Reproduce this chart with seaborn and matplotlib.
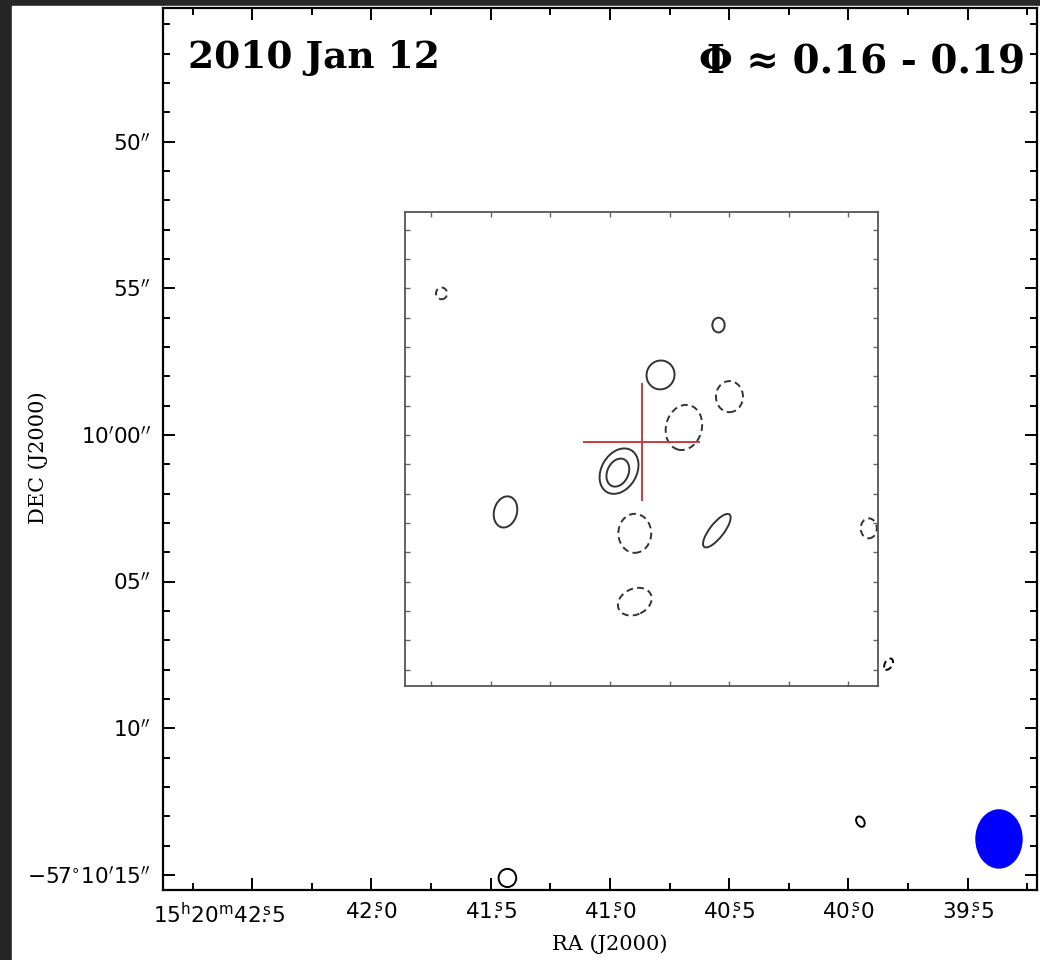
import numpy as np
import pandas as pd
import matplotlib
matplotlib.use('Agg')
import matplotlib.pyplot as plt
from matplotlib.patches import Ellipse, Rectangle
from matplotlib.transforms import ScaledTranslation
import seaborn as sns

sns.set_theme(style='ticks')
plt.rcParams['font.family'] = ['DejaVu Sans']
plt.rcParams['mathtext.fontset'] = 'dejavusans'

# RA in seconds of 15h20m, Dec as arcsec offset from -57d10'00"
ra_ticks = [42.5, 42.0, 41.5, 41.0, 40.5, 40.0, 39.5]
ra_labels = [r'15$^{\rm h}$20$^{\rm m}$42$\overset{\rm s}{.}$5', r'42$\overset{\rm s}{.}$0',
             r'41$\overset{\rm s}{.}$5', r'41$\overset{\rm s}{.}$0', r'40$\overset{\rm s}{.}$5',
             r'40$\overset{\rm s}{.}$0', r'39$\overset{\rm s}{.}$5']
dec_ticks = [10, 5, 0, -5, -10, -15]
dec_labels = [r'50$^{\prime\prime}$', r'55$^{\prime\prime}$', r'10$^{\prime}$00$^{\prime\prime}$',
              r'05$^{\prime\prime}$', r'10$^{\prime\prime}$', r'$-$57$^{\circ}$10$^{\prime}$15$^{\prime\prime}$']

# contour pieces (ellipse fits): centre RA [s], Dec ["], size ["], pa [deg]
cont_ra = [40.788, 40.499, 40.690, 40.962, 40.967, 41.438, 40.896, 40.552, 40.896,
           40.545, 41.706, 39.915, 39.832, 39.950, 41.430]
cont_dec = [2.05, 1.31, 0.26, -1.23, -1.28, -2.62, -3.35, -3.26, -5.68,
            3.75, 4.83, -3.18, -7.81, -13.18, -15.10]
cont_w = [0.95, 0.92, 1.22, 1.20, 0.72, 0.78, 1.12, 1.40, 1.20, 0.42, 0.38, 0.55, 0.25, 0.26, 0.60]
cont_h = [0.99, 1.06, 1.56, 1.65, 1.00, 1.08, 1.33, 0.48, 0.88, 0.50, 0.40, 0.68, 0.42, 0.38, 0.62]
cont_pa = [-20, 0, -15, -30, -25, -15, 0, 52, 25, 0, 0, 0, -30, 30, 0]
cont_sign = [1, -1, -1, 1, 1, 1, -1, 1, -1, 1, -1, -1, -1, 1, 1]
cont_inner = [1, 1, 1, 1, 1, 1, 1, 1, 1, 1, 1, 1, 0, 0, 0]

beam_ra, beam_dec, beam_w, beam_h = 39.369, -13.77, 1.57, 1.98
src_ra, src_dec, src_err = 40.867, -0.24, 2.0

K = 15 * np.cos(np.radians(57.1686))  # arcsec per RA second


def to_x(ra):
    return (41.0 - np.asarray(ra, dtype=float)) * K


W, H = 1040, 960
fig = plt.figure(figsize=(W / 100, H / 100), dpi=100)
fig.patch.set_facecolor('#262626')
fig.add_artist(Rectangle((12 / W, 0), 1, (H - 6) / H, transform=fig.transFigure,
                         color='white', zorder=-5))

ax = fig.add_axes([163 / W, (H - 890) / H, 874 / W, 882 / H])
ax.set_facecolor('white')
ax.set_xlim(-15.24, 14.56)
ax.set_ylim(-15.51, 14.56)

ax.set_xticks(to_x(ra_ticks))
ax.set_xticklabels(ra_labels)
ax.set_xticks(to_x(np.arange(39.25, 43.0, 0.25)), minor=True)
ax.set_yticks(dec_ticks)
ax.set_yticklabels(dec_labels)
ax.set_yticks(np.arange(-15, 15, 1), minor=True)
ax.tick_params(which='both', direction='in', top=True, right=True, color='black',
               width=1.4, labelsize=15.5, labelcolor='black')
ax.tick_params(which='major', length=8.5, pad=9)
ax.tick_params(which='minor', length=5)
for s in ax.spines.values():
    s.set_color('black')
    s.set_linewidth(1.6)

# first RA label is aligned on its seconds part
first = ax.get_xticklabels()[0]
first.set_transform(first.get_transform() + ScaledTranslation(-0.33, 0, fig.dpi_scale_trans))

ax.set_xlabel('RA (J2000)', family='DejaVu Serif', fontsize=15, color='black')
ax.set_ylabel('DEC (J2000)', family='DejaVu Serif', fontsize=15, color='black')
ax.xaxis.set_label_coords(0.511, -0.05)
ax.yaxis.set_label_coords(-0.132, 0.49)

df = pd.DataFrame({'x': to_x(cont_ra), 'y': cont_dec, 'w': cont_w, 'h': cont_h,
                   'pa': cont_pa, 'sign': cont_sign, 'inner': cont_inner})
for _, r in df.iterrows():
    ls = '-' if r['sign'] > 0 else (0, (3.5, 2.2))
    col = '#333333' if r['inner'] else 'black'
    ax.add_patch(Ellipse((r['x'], r['y']), r['w'], r['h'], angle=r['pa'], fill=False,
                         ec=col, lw=1.4, ls=ls, clip_on=False, zorder=3))

# restoring beam
ax.add_patch(Ellipse((to_x(beam_ra), beam_dec), beam_w, beam_h, fc='#0000ff', ec='#0000ff', zorder=3))

# source position
ax.errorbar(to_x(src_ra), src_dec, xerr=src_err, yerr=src_err, fmt='none',
            ecolor='#c83c3c', elinewidth=1.4, capsize=0, zorder=4)

# inner map frame
inv = ax.transData.inverted()
(ix0, iy0), (ix1, iy1) = inv.transform([(405, H - 686), (878, H - 212)])
axi = fig.add_axes([405 / W, (H - 686) / H, 473 / W, 474 / H])
axi.patch.set_alpha(0)
axi.set_xlim(ix0, ix1)
axi.set_ylim(iy0, iy1)
xt = to_x(np.arange(39.5, 43.0, 0.25))
axi.set_xticks(xt[(xt > ix0) & (xt < ix1)])
yt = np.arange(-15, 15, 1)
axi.set_yticks(yt[(yt > iy0) & (yt < iy1)])
axi.tick_params(direction='in', length=3.5, width=1, color='#666666', top=True, right=True,
                labelbottom=False, labelleft=False)
for s in axi.spines.values():
    s.set_color('#555555')
    s.set_linewidth(1.3)

ax.text(0.0286, 0.932, '2010 Jan 12', transform=ax.transAxes, fontsize=27,
        fontweight='bold', family='DejaVu Serif', va='baseline', color='black')
ax.text(0.986, 0.926, 'Φ ≈ 0.16 - 0.19', transform=ax.transAxes, fontsize=28,
        fontweight='bold', family='DejaVu Serif', va='baseline', ha='right', color='black')

fig.savefig('out.png', dpi=100, facecolor=fig.get_facecolor())
